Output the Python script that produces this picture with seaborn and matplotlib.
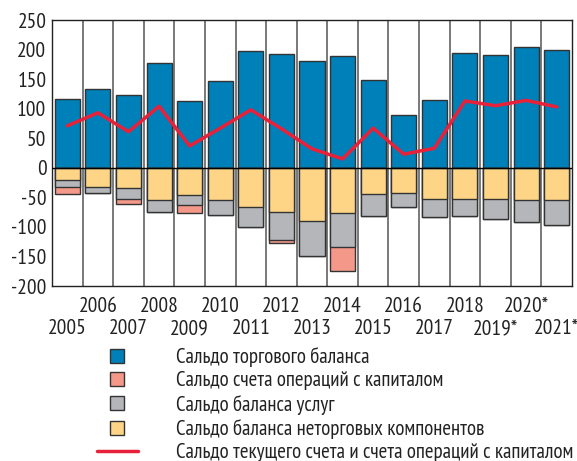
import numpy as np
import pandas as pd
import matplotlib
matplotlib.use("Agg")
import matplotlib.pyplot as plt
from matplotlib.lines import Line2D
import seaborn as sns

sns.set_style("white")
plt.rcParams["font.family"] = ["PT Sans Narrow", "DejaVu Sans"]
plt.rcParams["axes.unicode_minus"] = False

years = ["2005", "2006", "2007", "2008", "2009", "2010", "2011", "2012", "2013",
         "2014", "2015", "2016", "2017", "2018", "2019*", "2020*", "2021*"]
trade = [116, 134, 123, 178, 113, 147, 197, 192, 181, 189, 148, 90, 115, 195, 191, 204, 199]
nontrade = [-20, -32, -35, -54, -46, -54, -67, -74, -90, -77, -44, -43, -52, -52, -53, -55, -55]
services = [-12, -11, -17, -20, -17, -26, -34, -48, -59, -57, -38, -24, -32, -30, -33, -36, -42]
capital = [-12, 0, -10, 0, -13, 0, 0, -5, 0, -41, 0, 0, 0, 0, 0, 0, 0]
balance = [71, 93, 61, 104, 37, 67, 98, 66, 32, 15, 67, 23, 33, 113, 105, 114, 103]

c_trade = "#0080B8"
c_cap = "#F4998A"
c_serv = "#B5B6BA"
c_non = "#FED586"
c_line = "#E8213A"
edge = "#333333"

df = pd.DataFrame({"year": years, "trade": trade, "nontrade": nontrade,
                   "services": services, "capital": capital})
# negative parts stacked: draw cumulative totals back to front
df["lvl1"] = df["nontrade"]
df["lvl2"] = df["nontrade"] + df["services"]
df["lvl3"] = df["lvl2"] + df["capital"]

fig = plt.figure(figsize=(5.77, 4.61), dpi=100)
ax = fig.add_axes([52 / 577, 1 - 286 / 461, 520 / 577, 266 / 461])

bar_kw = dict(width=0.82, edgecolor=edge, linewidth=1.0, ax=ax)
sns.barplot(data=df, x="year", y="trade", color=c_trade, saturation=1, **bar_kw)
sns.barplot(data=df, x="year", y="lvl3", color=c_cap, saturation=1, **bar_kw)
sns.barplot(data=df, x="year", y="lvl2", color=c_serv, saturation=1, **bar_kw)
sns.barplot(data=df, x="year", y="lvl1", color=c_non, saturation=1, **bar_kw)

sns.lineplot(x=np.arange(len(years)), y=balance, color=c_line, linewidth=2.5, ax=ax, zorder=5)

ax.axhline(0, color="black", linewidth=1.0, zorder=4)
ax.set_xlim(-0.5, len(years) - 0.5)
ax.set_ylim(-200, 250)
ax.set_yticks(np.arange(-200, 251, 50))

# two rows of year labels: odd positions on top row, even positions below
pos = np.arange(len(years))
ax.set_xticks(pos[1::2])
ax.set_xticklabels(years[1::2])
sec = ax.secondary_xaxis("bottom")
sec.set_xticks(pos[0::2])
sec.set_xticklabels(years[0::2])
sec.spines["bottom"].set_visible(False)
sec.tick_params(axis="x", length=0, labelsize=15.5, pad=24, colors="#222222")

ax.set_xticks(pos[:-1] + 0.5, minor=True)
ax.grid(axis="x", which="minor", color="#6e6e6e", linewidth=1.3)
ax.set_axisbelow(True)
ax.tick_params(axis="x", which="both", length=0, labelsize=15.5, pad=8, colors="#222222")
ax.tick_params(axis="y", direction="in", length=5, labelsize=15.5, pad=4, colors="#222222")
ax.set_xlabel("")
ax.set_ylabel("")
for s in ax.spines.values():
    s.set_color("#222222")
    s.set_linewidth(1.0)

handles = [
    Line2D([], [], marker="s", linestyle="none", markersize=9.5, markerfacecolor=c_trade, markeredgecolor=edge),
    Line2D([], [], marker="s", linestyle="none", markersize=9.5, markerfacecolor=c_cap, markeredgecolor=edge),
    Line2D([], [], marker="s", linestyle="none", markersize=9.5, markerfacecolor=c_serv, markeredgecolor=edge),
    Line2D([], [], marker="s", linestyle="none", markersize=9.5, markerfacecolor=c_non, markeredgecolor=edge),
    Line2D([], [], color=c_line, linewidth=2.5),
]
names = ["Сальдо торгового баланса",
         "Сальдо счета операций с капиталом",
         "Сальдо баланса услуг",
         "Сальдо баланса неторговых компонентов",
         "Сальдо текущего счета и счета операций с капиталом"]
fig.legend(handles, names, loc="upper left", bbox_to_anchor=(97 / 577, 1 - 347 / 461),
           frameon=False, fontsize=15, handlelength=1.95, handletextpad=1.83,
           labelspacing=0.21, borderpad=0, borderaxespad=0, labelcolor="#222222")

fig.savefig("out.png", dpi=100)
